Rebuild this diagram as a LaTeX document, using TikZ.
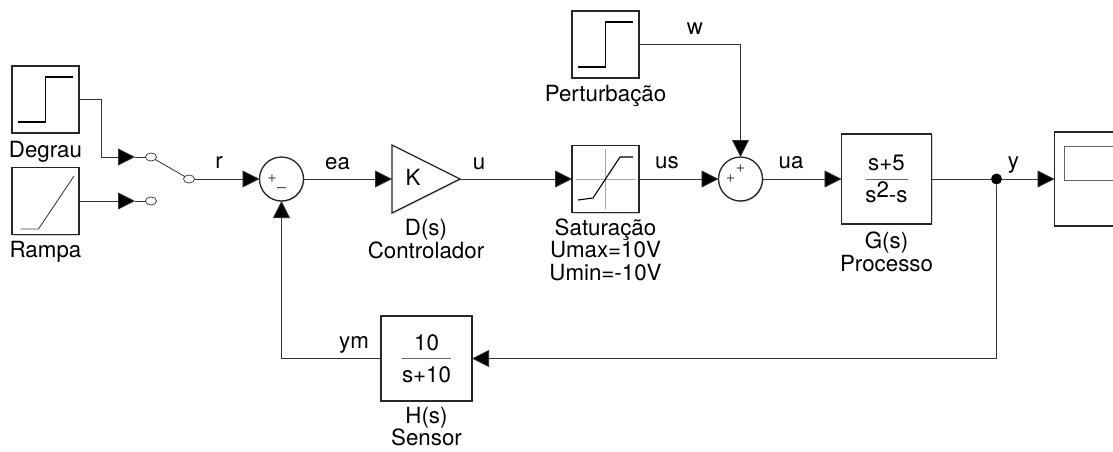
\documentclass[tikz,border=0pt]{standalone}
\usepackage{fontspec}
\setmainfont{TeX Gyre Heros}
\usetikzlibrary{arrows.meta}
\usetikzlibrary{positioning, shapes.geometric, shadows}

\tikzset{
    shade box/.style={drop shadow={shadow xshift=1pt, shadow yshift=-1pt, opacity=.35}},
    block/.style={draw=black!85, line width=1.3pt, fill=white, shade box, inner sep=0pt, outer sep=0pt, minimum width=67pt, minimum height=67pt},
    sumblock/.style={circle, draw=black!85, line width=1.3pt, fill=white, shade box, inner sep=0pt, outer sep=0pt, minimum size=44pt},
    contact/.style={ellipse, draw=black!75, line width=.8pt, inner sep=0pt, outer sep=0pt, minimum width=11pt, minimum height=8pt},
    signal/.style={line width=.8pt, draw=black!80},
    flow/.style={signal, -{Triangle[length=17pt, width=17pt, fill=black]}},
    icon/.style={line width=1.1pt, black},
    ratio/.style={line width=.9pt, black!60},
    sig/.style={inner sep=0pt},
    lbl/.style={inner sep=0pt, align=center},
    sgn/.style={inner sep=0pt, text=black!70, font=\fontsize{16}{16}\selectfont},
    stepicon/.pic={\draw [icon] (-27.5,-22.5) -- (0,-22.5) -- (0,22.5) -- (27,22.5);},
}

\begin{document}
\begin{tikzpicture}[x=1pt, y=1pt, on grid, font=\fontsize{22.3}{22.5}\selectfont]
    \path [use as bounding box, clip] (0,0) rectangle (1113,451);

    \node [block] (deg) at (45.5,351.5) {};
    \node [block, below=101.5pt of deg] (ramp) {};
    \node [contact, below right=57.5pt and 105.5pt of deg] (swa) {};
    \node [contact, below=44pt of swa] (swb) {};
    \node [contact, below right=22pt and 38pt of swa] (swc) {};
    \coordinate [left=16pt of swa] (ina);
    \coordinate [left=16pt of swb] (inb);
    \node [sumblock, right=92.5pt of swc] (sumr) {};
    \node [isosceles triangle, isosceles triangle apex angle=53.13, draw=black!85, line width=1.3pt, fill=white, shade box, inner sep=0pt, outer sep=0pt, minimum height=68pt, right=110.5pt of sumr, anchor=lower side] (gain) {};
    \node [block, right=324pt of sumr] (sat) {};
    \node [block, above=134.5pt of sat] (pert) {};
    \node [sumblock, right=135pt of sat] (sumu) {};
    \node [block, minimum width=90pt, minimum height=90pt, right=146pt of sumu] (proc) {};
    \node [circle, fill=black, inner sep=0pt, minimum size=11pt, right=110pt of proc] (dot) {};
    \node [block, minimum width=80pt, minimum height=94pt, right=98pt of dot] (scope) {};
    \node [draw=black!60, line width=.9pt, fill=white, inner sep=0pt, minimum width=70pt, minimum height=34pt, above right=16pt and 5pt of scope] (screen) {};
    \node [block, minimum width=91pt, minimum height=85pt, below right=179.5pt and 145pt of sumr] (sens) {};

    \pic at (deg) {stepicon};
    \pic at (pert) {stepicon};
    \draw [line width=.9pt, black!75] ([shift={(-25,-28)}]ramp.center) -- ([shift={(-7,-28)}]ramp.center) -- ([shift={(28.5,25)}]ramp.center);
    \draw [line width=.9pt, black!35] ([xshift=-29.5pt]sat.center) -- ([xshift=30.5pt]sat.center);
    \draw [line width=.9pt, black!35] ([yshift=-30pt]sat.center) -- ([yshift=30pt]sat.center);
    \draw [icon] ([shift={(-27.5,-21)}]sat.center) -- ([shift={(-12.5,-19)}]sat.center) -- ([shift={(14.5,22)}]sat.center) -- ([shift={(27.5,22)}]sat.center);

    \draw [ratio] ([xshift=-21pt]proc.center) -- ([xshift=21pt]proc.center);
    \node [sig, above=9pt of proc, anchor=base] (pnum) {s+5};
    \node [sig, below=23pt of proc, anchor=base] (pden) {s\raisebox{5pt}{2}-s};
    \draw [ratio] ([xshift=-24.5pt]sens.center) -- ([xshift=24.5pt]sens.center);
    \node [sig, above=8pt of sens, anchor=base] (snum) {10};
    \node [sig, below=24pt of sens, anchor=base] (sden) {s+10};

    \node [inner sep=0pt, above right=2pt and 131.5pt of sumr] (gaink) {K};
    \node [sgn, left=9.5pt of sumr] (pr) {+};
    \node [sgn, below=11pt of sumr] (mr) {--};
    \node [sgn, left=10pt of sumu] (pa) {+};
    \node [sgn, above=10pt of sumu] (pb) {+};

    \node [sig, above right=10.5pt and 30pt of swc, anchor=base] (lr) {r};
    \node [sig, above right=9.5pt and 56pt of sumr, anchor=base] (lea) {ea};
    \node [sig, above right=9.5pt and 197.5pt of sumr, anchor=base] (lu) {u};
    \node [sig, above right=10.5pt and 61.5pt of sat, anchor=base] (lus) {us};
    \node [sig, above right=10.5pt and 50.5pt of sumu, anchor=base] (lua) {ua};
    \node [sig, above right=10.5pt and 17pt of dot, anchor=base] (ly) {y};
    \node [sig, above right=10.5pt and 89.5pt of pert, anchor=base] (lw) {w};
    \node [sig, above left=10pt and 72.5pt of sens, anchor=base] (lym) {ym};

    \node [lbl, below=57.5pt of deg, anchor=base] (tdeg) {Degrau};
    \node [lbl, below=56pt of ramp, anchor=base] (tramp) {Rampa};
    \node [lbl, below=56.5pt of pert, anchor=base] (tpert) {Perturbação};
    \node [lbl, below=101pt of sat, anchor=base] (tsat) {Saturação\\Umax=10V\\Umin=-10V};
    \node [lbl, below right=79pt and 144.5pt of sumr, anchor=base] (tgain) {D(s)\\Controlador};
    \node [lbl, below=92pt of proc, anchor=base] (tproc) {G(s)\\Processo};
    \node [lbl, below=87pt of sens, anchor=base] (tsens) {H(s)\\Sensor};

    \draw [flow] (deg.east) -- ++(22.5,0) |- (ina);
    \draw [flow] (ramp.east) -- (inb);
    \draw [signal] (ina) -- (swa);
    \draw [signal] (inb) -- (swb);
    \draw [signal] (swa) -- (swc);
    \draw [flow] (swc) -- (sumr);
    \draw [flow] (sumr) -- (gain.lower side);
    \draw [flow] (gain.apex) -- (sat);
    \draw [flow] (sat) -- (sumu);
    \draw [flow] (pert.east) -| (sumu);
    \draw [flow] (sumu) -- (proc);
    \draw [signal] (proc) -- (dot);
    \draw [flow] (dot) -- (scope);
    \draw [flow] (dot) |- (sens.east);
    \draw [flow] (sens.west) -| (sumr);
\end{tikzpicture}
\end{document}
